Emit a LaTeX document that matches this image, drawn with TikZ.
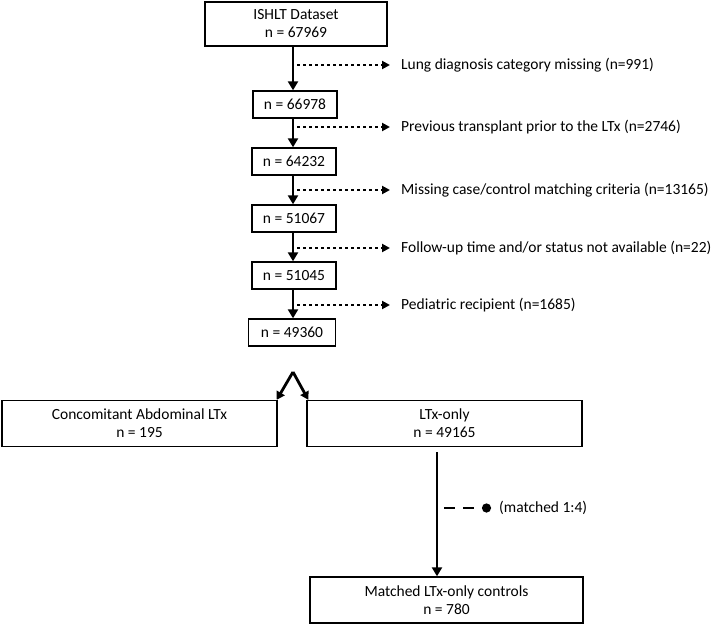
\documentclass[tikz,border=0pt]{standalone}
\usepackage{fontspec}
\setmainfont{Carlito}
\usetikzlibrary{arrows.meta,positioning,calc}

\begin{document}
\begin{tikzpicture}[x=1pt, y=-1pt,
    box/.style={rectangle, draw, line width=1.4pt, minimum width=84pt, minimum height=27pt, align=center, inner sep=2pt, font=\fontsize{15.5}{18}\selectfont},
    wide/.style={box, minimum width=275pt, minimum height=46pt},
    note/.style={anchor=west, inner sep=0pt, font=\fontsize{15.5}{18}\selectfont},
    flow/.style={-{Triangle[length=9pt,width=10pt]}, line width=2.8pt},
    excl/.style={-{Triangle[length=8pt,width=8pt]}, line width=2.6pt, dash pattern=on 2.6pt off 3.4pt},
    match/.style={-{Circle[length=9pt]}, line width=2.6pt, dash pattern=on 11pt off 8pt}
  ]
    \useasboundingbox (0,0) rectangle (712,626);

    \node[box, minimum width=182pt, minimum height=44pt] (ds) at (296,24) {ISHLT Dataset\\n = 67969};
    \node[box] (s1) at (295,104.5) {n = 66978};
    \node[box] (s2) at (294,161.5) {n = 64232};
    \node[box] (s3) at (294,218.5) {n = 51067};
    \node[box] (s4) at (294,275.5) {n = 51045};
    \node[box, minimum width=87pt] (s5) at (292,332.5) {n = 49360};
    \node[wide] (cab) at (139.5,423.5) {Concomitant Abdominal LTx\\n = 195};
    \node[wide] (only) at (444.5,423.5) {LTx-only\\n = 49165};
    \node[wide, minimum width=273pt] (ctl) at (446.5,600) {Matched LTx-only controls\\n = 780};

    % exclusions
    \node[note] (x1) at (401,65) {Lung diagnosis category missing (n=991)};
    \node[note] (x2) at (401,127) {Previous transplant prior to the LTx (n=2746)};
    \node[note] (x3) at (401,190) {Missing case/control matching criteria (n=13165)};
    \node[note] (x4) at (401,248) {Follow-up time and/or status not available (n=22)};
    \node[note] (x5) at (401,305) {Pediatric recipient (n=1685)};
    \node[note] (mt) at (499,508) {(matched 1:4)};

    \coordinate (ax) at (293,0);
    \foreach \a/\b in {ds/s1, s1/s2, s2/s3, s3/s4, s4/s5}
      \draw[flow] (\a.south -| ax) -- (\b.north -| ax);
    \foreach \x in {x1,x2,x3,x4,x5}
      \draw[excl] ([xshift=297pt]\x.west -| 0,0) -- ([xshift=-11pt]\x.west);

    % split
    \coordinate (split) at (293,372);
    \draw[flow, -{Triangle[length=8pt,width=9pt]}] (split) -- ([xshift=-1pt]cab.north east);
    \draw[flow, -{Triangle[length=8pt,width=9pt]}] (split) -- ([xshift=2pt]only.north west);

    \coordinate (m) at (437,452);
    \draw[flow] (m) -- (m |- ctl.north);
    \draw[match] ([xshift=444pt]mt.west -| 0,0) -- ([xshift=-8pt]mt.west);
\end{tikzpicture}
\end{document}
